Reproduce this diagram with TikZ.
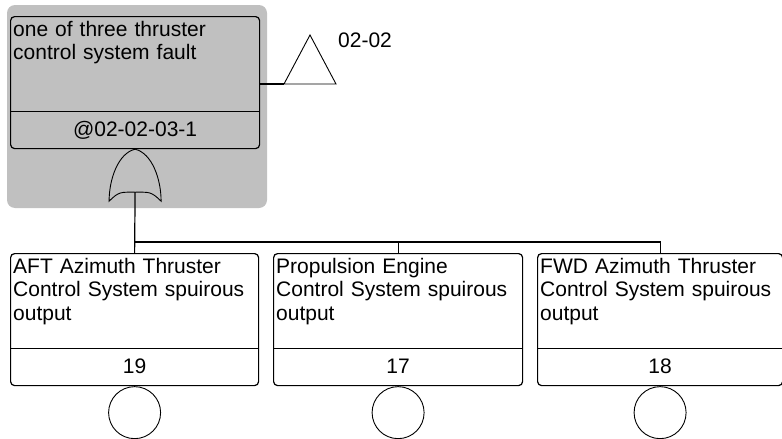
\documentclass[tikz,border=0pt]{standalone}
\usepackage{fontspec}
\setmainfont{Liberation Sans}
\definecolor{ftgray}{HTML}{C0C0C0}

\begin{document}
\begin{tikzpicture}[
  x=1pt, y=-1pt,
  wire/.style={black, line width=1.2pt},
  symb/.style={black, line width=0.9pt},
  event/.style={draw, line width=1.2pt, rounded corners=4pt,
    minimum height=132pt, inner sep=0pt, anchor=north west},
  desc/.style={anchor=north west, inner sep=0pt, text width=240pt,
    align=left, font=\fontsize{21}{23.5}\selectfont},
  num/.style={inner sep=0pt, font=\fontsize{21}{23.5}\selectfont},
  basic/.style={draw, circle, symb, minimum size=52pt, inner sep=0pt, anchor=north},
]

% ----------------------------------------------------------
% Frame and gray highlight of the top gate
% ----------------------------------------------------------
\useasboundingbox (0,0) rectangle (782,439);
\fill[ftgray, rounded corners=8pt] (7,5) rectangle (267,208);

% ----------------------------------------------------------
% Top event
% ----------------------------------------------------------
\node[event, minimum width=249pt] (top) at (10,16) {};
\draw[wire] ([yshift=38pt]top.south west) -- ([yshift=38pt]top.south east);
\node[desc] (topdesc) at ([xshift=3pt, yshift=-5pt]top.north west)
  {one of three thruster\\control system fault};
\node[num] (topid) at ([yshift=19pt]top.south) {@02-02-03-1};

% transfer triangle
\coordinate (xfer) at (284,84);
\draw[wire] (xfer -| top.east) -- (xfer);
\draw[symb] (xfer) -- ++(26,-49) -- ++(26,49) -- cycle;
\node[num, anchor=west] (xferid) at (338,40) {02-02};

% ----------------------------------------------------------
% OR gate
% ----------------------------------------------------------
\coordinate (gtip) at (top.south);
\coordinate (gin) at ([yshift=-43pt]top.south);
\draw[symb] (gtip) .. controls +(-17,4) and +(0,-22) .. ++(-26,52)
  .. controls +(10,-10) and +(-14,0) .. (gin)
  .. controls +(14,0) and +(-10,-10) .. ++(26,9)
  .. controls +(0,-22) and +(17,4) .. (gtip);

% ----------------------------------------------------------
% Basic events
% ----------------------------------------------------------
\foreach \nm/\x/\w/\desc in {%
  ev19/10/248/{AFT Azimuth Thruster\\Control System spuirous\\output},%
  ev17/273/249/{Propulsion Engine\\Control System spuirous\\output},%
  ev18/537/245/{FWD Azimuth Thruster\\Control System spuirous\\output}%
}{
  \node[event, minimum width=\w pt] (\nm) at (\x,253) {};
  \draw[wire] ([yshift=38pt]\nm.south west) -- ([yshift=38pt]\nm.south east);
  \node[desc] (\nm desc) at ([xshift=3pt, yshift=-5pt]\nm.north west) {\desc};
  \node[basic] (\nm circ) at (\nm.south) {};
}
\node[num] (ev19id) at ([yshift=20pt]ev19.south) {19};
\node[num] (ev17id) at ([yshift=20pt]ev17.south) {17};
\node[num] (ev18id) at ([yshift=20pt]ev18.south) {18};

% ----------------------------------------------------------
% Connectors
% ----------------------------------------------------------
\coordinate (bus) at (134,242);
\draw[wire] (gin) -- (ev19.north);
\draw[wire] (ev19.north |- bus) -| (ev18.north);
\draw[wire] (ev17.north |- bus) -- (ev17.north);

\end{tikzpicture}
\end{document}
